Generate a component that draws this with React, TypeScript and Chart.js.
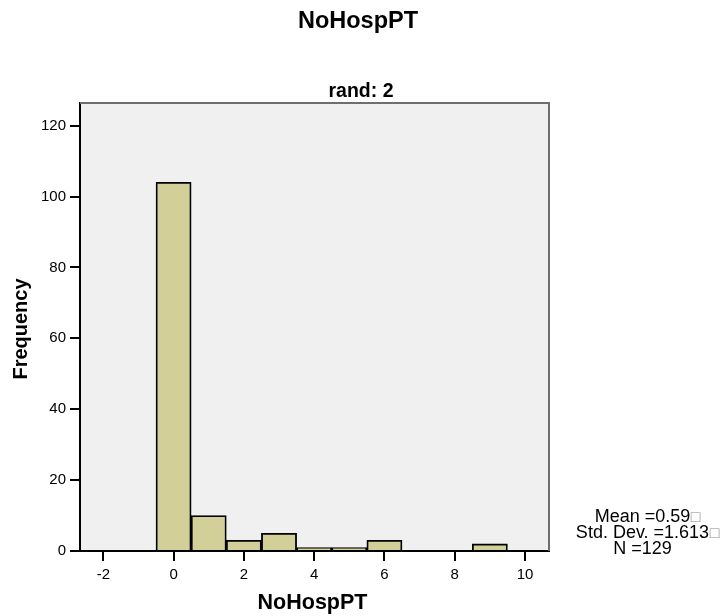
import React, { useEffect, useRef } from "react";
import { Chart, registerables } from "chart.js";

Chart.register(...registerables);

// ---- data ----
const BIN_CENTERS = [0, 1, 2, 3, 4, 5, 6, 9];
const FREQUENCIES = [104, 10, 3, 5, 1, 1, 3, 2];
const X_TICKS = [-2, 0, 2, 4, 6, 8, 10];
const Y_TICKS = [0, 20, 40, 60, 80, 100, 120];
const TITLE = "NoHospPT";
const SUBTITLE = "rand: 2";
const X_LABEL = "NoHospPT";
const Y_LABEL = "Frequency";
const STATS_LINES = ["Mean =0.59", "Std. Dev. =1.613", "N =129"];
const STATS_MARKS = ["\u25A1", "\u25A1", ""];

const FONT = "'Liberation Sans', Arial, Helvetica, sans-serif";

const decorPlugin = {
  id: "decor",
  beforeDraw(chart: any) {
    const { ctx, chartArea: a } = chart;
    ctx.save();
    ctx.fillStyle = "#f0f0f0";
    ctx.fillRect(a.left, a.top, a.right - a.left, a.bottom - a.top);
    ctx.restore();
  },
  afterDraw(chart: any) {
    const { ctx, chartArea: a } = chart;
    ctx.save();
    // top & right frame
    ctx.strokeStyle = "#6e6e6e";
    ctx.lineWidth = 2;
    ctx.beginPath();
    ctx.moveTo(a.left, a.top);
    ctx.lineTo(a.right, a.top);
    ctx.lineTo(a.right, a.bottom);
    ctx.stroke();

    ctx.fillStyle = "#000";
    ctx.textAlign = "center";
    ctx.textBaseline = "alphabetic";
    ctx.font = `bold 23.5px ${FONT}`;
    ctx.fillText(TITLE, 358, 28);
    ctx.font = `bold 19.5px ${FONT}`;
    ctx.fillText(SUBTITLE, 361, 97);
    ctx.font = `bold 21.5px ${FONT}`;
    ctx.fillText(X_LABEL, 312.5, 609);

    ctx.save();
    ctx.translate(27, 329);
    ctx.rotate(-Math.PI / 2);
    ctx.font = `bold 20px ${FONT}`;
    ctx.fillText(Y_LABEL, 0, 0);
    ctx.restore();

    ctx.font = `18px ${FONT}`;
    ctx.textAlign = "left";
    STATS_LINES.forEach((t, i) => {
      const w = ctx.measureText(t).width;
      const x0 = 642.5 - w / 2;
      const y = 521.7 + i * 16.2;
      ctx.fillStyle = "#000";
      ctx.fillText(t, x0, y);
      if (STATS_MARKS[i]) {
        ctx.fillStyle = "#8a8a8a";
        ctx.font = `16px ${FONT}`;
        ctx.fillText(STATS_MARKS[i], x0 + w + 0.5, y);
        ctx.font = `18px ${FONT}`;
      }
    });
    ctx.restore();
  },
};

export default function App() {
  const ref = useRef<HTMLCanvasElement | null>(null);
  useEffect(() => {
    if (!ref.current) return;
    const chart = new Chart(ref.current, {
      type: "bar",
      data: {
        datasets: [
          {
            data: BIN_CENTERS.map((x, i) => ({ x, y: FREQUENCIES[i] })) as any,
            backgroundColor: "#d3cf98",
            borderColor: "#000",
            borderWidth: 1.8,
            barPercentage: 1,
            categoryPercentage: 1,
          },
        ],
      },
      options: {
        responsive: false,
        animation: false,
        devicePixelRatio: 1,
        layout: { padding: { left: 0, top: 103, right: 175, bottom: 0 } },
        plugins: {
          legend: { display: false },
          tooltip: { enabled: false },
          title: { display: false },
        },
        scales: {
          x: {
            type: "linear",
            offset: false,
            min: -2.663,
            max: 10.683,
            z: 1,
            afterBuildTicks: (s: any) => {
              s.ticks = X_TICKS.map((v) => ({ value: v }));
            },
            afterFit: (s: any) => {
              s.height = 65;
            },
            grid: {
              display: true,
              offset: false,
              drawOnChartArea: false,
              drawTicks: true,
              tickLength: 10,
              color: "#000",
              lineWidth: 2,
            },
            border: { display: true, color: "#000", width: 2 },
            ticks: {
              color: "#000",
              font: { family: FONT, size: 15 },
              padding: 5,
              maxRotation: 0,
              autoSkip: false,
            },
          },
          y: {
            type: "linear",
            min: 0,
            max: 126.4,
            z: 1,
            afterBuildTicks: (s: any) => {
              s.ticks = Y_TICKS.map((v) => ({ value: v }));
            },
            afterFit: (s: any) => {
              s.width = 80;
            },
            grid: {
              display: true,
              drawOnChartArea: false,
              drawTicks: true,
              tickLength: 10,
              color: "#000",
              lineWidth: 2,
            },
            border: { display: true, color: "#000", width: 2 },
            ticks: {
              color: "#000",
              font: { family: FONT, size: 15 },
              padding: 4,
              autoSkip: false,
            },
          },
        },
      },
      plugins: [decorPlugin],
    });
    return () => chart.destroy();
  }, []);
  return (
    <div style={{ position: "absolute", left: 0, top: 0, width: 724, height: 616, background: "#fff" }}>
      <canvas ref={ref} width={724} height={616} style={{ display: "block" }} />
    </div>
  );
}
